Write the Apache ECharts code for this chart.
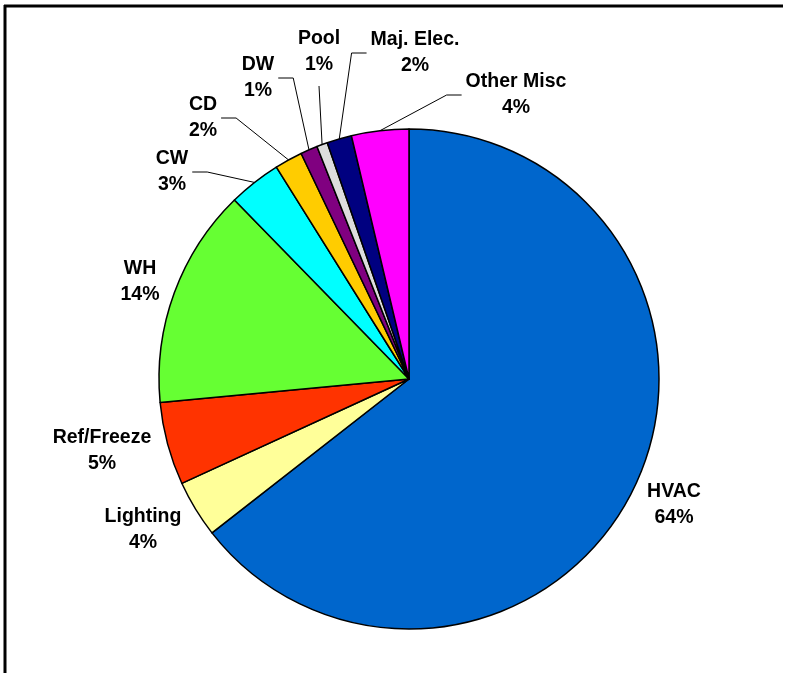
<!DOCTYPE html>
<html>
<head>
<meta charset="utf-8">
<script src="https://cdn.jsdelivr.net/npm/echarts@6/dist/echarts.min.js"></script>
<style>
html,body{margin:0;padding:0;background:#fff;}
#chart{width:793px;height:673px;}
</style>
</head>
<body>
<div id="chart"></div>
<script>
// Data
var categories = ['HVAC', 'Lighting', 'Ref/Freeze', 'WH', 'CW', 'CD', 'DW', 'Pool', 'Maj. Elec.', 'Other Misc'];
var values = [64.45, 3.7, 5.35, 14.2, 3.4, 1.8, 1.1, 0.7, 1.6, 3.7];
var colors = ['#0066CC', '#FFFF99', '#FF3300', '#66FF33', '#00FFFF', '#FFCC00', '#800080', '#DDDDDD', '#000080', '#FF00FF'];
var showLeader = [false, false, false, false, true, true, true, true, true, true];

// Label placement (styling)
var labelPos = [
  [674, 505], [143, 530], [102, 451], [140, 282], [172, 172],
  [203, 118], [258, 78], [319, 52], [415, 53], [516, 95]
];

var chart = echarts.init(document.getElementById('chart'), null, {renderer: 'canvas'});

var data = categories.map(function (c, i) {
  return {
    name: c,
    value: values[i],
    itemStyle: {color: colors[i]},
    labelLine: {show: showLeader[i]}
  };
});

chart.setOption({
  animation: false,
  backgroundColor: '#ffffff',
  graphic: [
    {type: 'line', shape: {x1: 5, y1: 5, x2: 5, y2: 673}, style: {stroke: '#000', lineWidth: 3}},
    {type: 'line', shape: {x1: 4, y1: 6, x2: 783, y2: 6}, style: {stroke: '#000', lineWidth: 3}}
  ],
  series: [{
    type: 'pie',
    center: [409, 379],
    radius: 250,
    startAngle: 90,
    clockwise: true,
    data: data,
    itemStyle: {borderColor: '#000', borderWidth: 1.5},
    label: {
      show: true,
      position: 'outside',
      fontFamily: '"Liberation Sans", Arial, sans-serif',
      fontWeight: 'bold',
      fontSize: 19.5,
      lineHeight: 26,
      color: '#000',
      align: 'center',
      formatter: function (p) { return p.name + '\n' + Math.round(p.percent) + '%'; }
    },
    labelLine: {
      length: 10,
      length2: 14,
      lineStyle: {color: '#000', width: 1}
    },
    labelLayout: function (params) {
      var i = params.dataIndex;
      var pos = labelPos[i];
      var res = {x: pos[0], y: pos[1], align: 'center', verticalAlign: 'middle'};
      if (showLeader[i] && params.labelLinePoints && params.labelLinePoints.length) {
        var a = params.labelLinePoints[0];
        var w = params.labelRect.width, h = params.labelRect.height;
        var left = pos[0] - w / 2, right = pos[0] + w / 2;
        var bottom = pos[1] + h / 2;
        var pts;
        if (a[0] >= left && a[0] <= right) {
          pts = [[a[0], a[1]], [pos[0], bottom + 8], [pos[0], bottom + 8]];
        } else if (a[0] > right) {
          var ex = right + 4;
          pts = [[a[0], a[1]], [ex + 15, pos[1]], [ex, pos[1]]];
        } else {
          var ex2 = left - 4;
          pts = [[a[0], a[1]], [ex2 - 15, pos[1]], [ex2, pos[1]]];
        }
        res.labelLinePoints = pts;
      }
      return res;
    },
    emphasis: {disabled: true}
  }]
});
</script>
</body>
</html>
